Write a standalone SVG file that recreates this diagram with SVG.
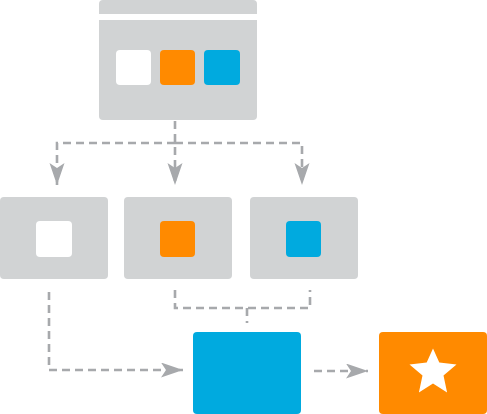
<svg xmlns="http://www.w3.org/2000/svg" width="487" height="414" viewBox="0 0 487 414">
<style>
.g{fill:#d1d3d4}
.w{fill:#ffffff}
.o{fill:#ff8a00}
.b{fill:#00aadf}
.c{fill:none;stroke:#a7a9ac;stroke-width:2.6;stroke-dasharray:8 5}
</style>
<defs>
<marker id="ah" markerUnits="userSpaceOnUse" markerWidth="24" markerHeight="16" refX="22" refY="7.5" orient="auto" viewBox="0 0 24 16">
<path d="M0,0 L22,7.5 L0,15 L5,7.5 z" fill="#a7a9ac"/>
</marker>
</defs>
<g id="connectors">
<path class="c" d="M175,121 V185" marker-end="url(#ah)"/>
<path class="c" d="M175,143 H57 V185" marker-end="url(#ah)"/>
<path class="c" d="M175,143 H302 V185" marker-end="url(#ah)"/>
<path class="c" d="M49,292 V370 H183" marker-end="url(#ah)"/>
<path class="c" d="M175,290 V308 H310 V290"/>
<path class="c" d="M247,308 V323"/>
<path class="c" d="M314,371 H368" marker-end="url(#ah)"/>
</g>
<g id="window">
<path class="g" d="M103,0 H253 A4,4 0 0 1 257,4 V14 H99 V4 A4,4 0 0 1 103,0 z"/>
<path class="g" d="M99,20 H257 V116 A4,4 0 0 1 253,120 H103 A4,4 0 0 1 99,116 z"/>
<rect class="w" x="116" y="50" width="35" height="35" rx="4"/>
<rect class="o" x="160" y="50" width="35" height="35" rx="4"/>
<rect class="b" x="204" y="50" width="36" height="35" rx="4"/>
</g>
<g id="box1">
<rect class="g" x="0" y="197" width="108" height="82" rx="4"/>
<rect class="w" x="36" y="221" width="36" height="36" rx="4"/>
</g>
<g id="box2">
<rect class="g" x="124" y="197" width="108" height="82" rx="4"/>
<rect class="o" x="160" y="221" width="35" height="36" rx="4"/>
</g>
<g id="box3">
<rect class="g" x="250" y="197" width="108" height="82" rx="4"/>
<rect class="b" x="286" y="221" width="35" height="36" rx="4"/>
</g>
<g id="merge">
<rect class="b" x="193" y="332" width="108" height="82" rx="4"/>
</g>
<g id="result">
<rect class="o" x="379" y="332" width="108" height="82" rx="4"/>
<polygon class="w" points="433,348.5 439.3,362.4 456.5,364.6 443.5,375.4 447.1,392.5 433,383.5 418.9,392.5 422.5,375.4 409.5,364.6 426.7,362.4"/>
</g>
</svg>
